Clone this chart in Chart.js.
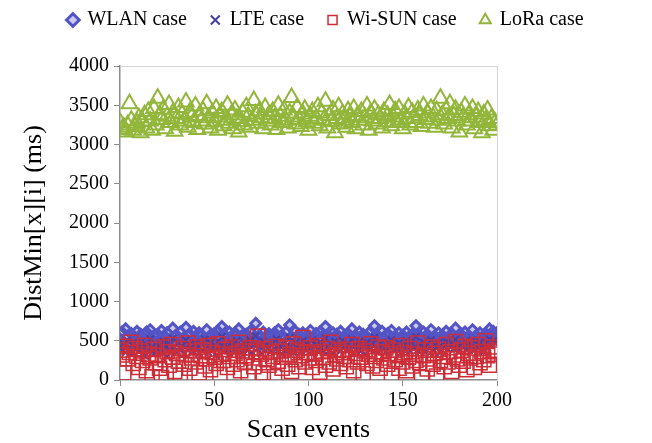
<!DOCTYPE html>
<html>
<head>
<meta charset="utf-8">
<script src="https://cdn.jsdelivr.net/npm/chart.js@4/dist/chart.umd.min.js"></script>
<style>
  html, body { margin: 0; padding: 0; background: #fff; }
  #wrap { width: 652px; height: 443px; }
</style>
</head>
<body>
<div id="wrap"><canvas id="chart"></canvas></div>
<script>
// values, one per scan event (index = scan event)
const wlan = [
  520, 610, 480, 650, 560, 430, 590, 520, 470, 620, 540, 580, 500, 450, 610, 530, 640, 490, 560, 420,
  580, 510, 630, 470, 550, 600, 440, 520, 660, 490, 570, 530, 610, 460, 540, 670, 500, 580, 450, 620,
  530, 490, 600, 560, 430, 520, 640, 480, 570, 510, 590, 460, 620, 540, 680, 500, 560, 440, 610, 530,
  470, 600, 520, 650, 490, 560, 430, 580, 510, 620, 480, 540, 720, 500, 570, 460, 610, 530, 490, 590,
  550, 420, 600, 510, 640, 470, 570, 530, 610, 490, 700, 550, 450, 620, 510, 580, 470, 600, 540, 500,
  560, 630, 480, 540, 590, 450, 610, 520, 570, 680, 500, 550, 460, 600, 530, 580, 490, 620, 510, 560,
  470, 590, 540, 650, 500, 570, 430, 610, 520, 580, 480, 550, 600, 460, 530, 690, 510, 560, 490, 620,
  540, 470, 590, 510, 630, 480, 560, 520, 600, 450, 570, 500, 610, 540, 470, 580, 520, 690, 490, 560,
  530, 610, 470, 580, 510, 640, 490, 560, 520, 600, 460, 570, 530, 620, 480, 550, 590, 500, 660, 540,
  470, 580, 520, 610, 490, 560, 530, 640, 480, 570, 510, 600, 540, 470, 590, 520, 650, 560, 620, 580,
  600
];
const lte = [
  420, 380, 460, 350, 500, 410, 330, 470, 390, 440, 360, 480, 400, 310, 450, 380, 520, 420, 340, 460,
  390, 430, 350, 490, 410, 300, 460, 380, 530, 420, 350, 470, 400, 440, 330, 510, 380, 450, 410, 360,
  480, 400, 340, 460, 390, 520, 420, 350, 470, 380, 440, 310, 490, 410, 550, 370, 450, 400, 330, 480,
  420, 360, 500, 390, 440, 320, 470, 410, 380, 510, 350, 450, 560, 400, 430, 340, 490, 380, 450, 410,
  360, 470, 400, 520, 380, 440, 330, 490, 410, 370, 540, 430, 350, 480, 400, 450, 360, 500, 420, 380,
  470, 400, 510, 350, 440, 390, 480, 410, 360, 530, 420, 380, 460, 340, 490, 410, 450, 370, 500, 430,
  380, 460, 400, 520, 350, 440, 410, 490, 370, 450, 330, 480, 420, 390, 470, 540, 400, 360, 460, 430,
  410, 360, 480, 420, 510, 380, 450, 400, 470, 340, 440, 390, 500, 430, 370, 460, 410, 550, 380, 450,
  420, 480, 360, 450, 400, 510, 380, 440, 410, 470, 350, 460, 420, 490, 390, 440, 470, 400, 520, 430,
  370, 460, 410, 490, 390, 450, 420, 510, 380, 460, 400, 480, 430, 360, 470, 410, 520, 450, 490, 470,
  480
];
const wisun = [
  380, 320, 90, 430, 270, 350, 480, 210, 400, 300, 160, 370, 250, 440, 120, 330, 280, 40, 390, 220,
  310, 150, 30, 420, 260, 360, 190, 450, 290, 110, 340, 240, 60, 400, 200, 320, 470, 150, 280, 370,
  230, 420, 90, 310, 380, 180, 270, 440, 130, 350, 290, 210, 460, 70, 330, 250, 390, 160, 300, 420,
  200, 340, 260, 480, 120, 370, 230, 310, 40, 410, 280, 170, 360, 560, 220, 330, 90, 400, 260, 190,
  350, 300, 40, 430, 240, 370, 150, 290, 410, 200, 320, 110, 460, 260, 380, 170, 310, 540, 230, 350,
  280, 410, 160, 330, 250, 440, 100, 360, 290, 190, 400, 230, 480, 140, 320, 270, 380, 210, 350, 300,
  170, 390, 260, 450, 120, 340, 230, 400, 290, 80, 370, 210, 330, 460, 180, 300, 250, 420, 150, 360,
  280, 410, 200, 340, 60, 380, 260, 310, 150, 440, 230, 350, 120, 290, 400, 180, 330, 250, 470, 220,
  30, 310, 380, 140, 270, 420, 200, 340, 50, 390, 250, 300, 170, 450, 230, 360, 110, 320, 490, 270,
  190, 380, 240, 430, 130, 340, 280, 410, 160, 300, 450, 220, 360, 260, 500, 310, 190, 420, 330, 380,
  360
];
const lora = [
  3280, 3190, 3220, 3160, 3250, 3520, 3310, 3180, 3230, 3270, 3340, 3150, 3290, 3380, 3210, 3420, 3300, 3180, 3460, 3250,
  3590, 3380, 3320, 3450, 3200, 3360, 3510, 3280, 3400, 3170, 3330, 3470, 3250, 3390, 3300, 3540, 3220, 3410, 3350, 3280,
  3490, 3190, 3370, 3300, 3430, 3260, 3520, 3340, 3210, 3400, 3290, 3460, 3180, 3350, 3420, 3240, 3310, 3500, 3270, 3380,
  3200, 3440, 3330, 3160, 3290, 3410, 3250, 3480, 3360, 3220, 3310, 3560, 3390, 3270, 3430, 3340, 3200, 3470, 3300, 3380,
  3250, 3420, 3330, 3190, 3500, 3360, 3280, 3440, 3310, 3210, 3400, 3600, 3350, 3260, 3470, 3320, 3230, 3390, 3450, 3290,
  3180, 3360, 3420, 3270, 3330, 3480, 3240, 3400, 3310, 3550, 3210, 3370, 3290, 3440, 3150, 3330, 3480, 3260, 3390, 3310,
  3220, 3430, 3350, 3280, 3460, 3200, 3370, 3310, 3420, 3250, 3340, 3490, 3180, 3400, 3300, 3450, 3260, 3380, 3330, 3210,
  3420, 3290, 3370, 3510, 3240, 3350, 3430, 3280, 3460, 3310, 3200, 3390, 3330, 3470, 3250, 3410, 3340, 3280, 3440, 3370,
  3230, 3490, 3320, 3400, 3270, 3460, 3350, 3220, 3430, 3310, 3590, 3380, 3260, 3440, 3330, 3520, 3210, 3370, 3450, 3300,
  3160, 3410, 3340, 3490, 3250, 3380, 3300, 3460, 3200, 3350, 3420, 3280, 3150, 3390, 3310, 3440, 3240, 3330, 3180, 3280,
  3250
];
const seriesNames = ["WLAN case", "LTE case", "Wi-SUN case", "LoRa case"];
const xTicks = [0, 50, 100, 150, 200];
const yTicks = [0, 500, 1000, 1500, 2000, 2500, 3000, 3500, 4000];

const toPoints = (arr) => arr.map((v, i) => ({x: i, y: v}));
const serif = "'Liberation Serif', 'DejaVu Serif', serif";

const data = {
  datasets: [
    {
      label: seriesNames[0],
      data: toPoints(wlan),
      pointStyle: "rectRot",
      pointRadius: 5,
      borderWidth: 3,
      borderColor: "rgb(84, 84, 198)",
      backgroundColor: "rgba(84, 84, 198, 0.3)",
      order: 3,
    },
    {
      label: seriesNames[1],
      data: toPoints(lte),
      pointStyle: "crossRot",
      pointRadius: 5,
      borderWidth: 2,
      borderColor: "rgb(72, 62, 160)",
      backgroundColor: "rgb(72, 62, 160)",
      order: 2,
    },
    {
      label: seriesNames[2],
      data: toPoints(wisun),
      pointStyle: "rect",
      pointRadius: 10,
      borderWidth: 1.5,
      borderColor: "rgb(205, 45, 55)",
      backgroundColor: "rgba(0, 0, 0, 0)",
      order: 1,
    },
    {
      label: seriesNames[3],
      data: toPoints(lora),
      pointStyle: "triangle",
      pointRadius: 9,
      borderWidth: 2,
      borderColor: "rgb(146, 182, 58)",
      backgroundColor: "rgba(0, 0, 0, 0)",
      order: 0,
    },
  ],
};

const axisGray = "#8c8c8c";
const boxGray = "#d6d6d6";

new Chart(document.getElementById("chart"), {
  type: "scatter",
  data: data,
  options: {
    responsive: true,
    maintainAspectRatio: false,
    animation: false,
    layout: {padding: {top: -14, left: 0, right: 0, bottom: 0}},
    plugins: {
      tooltip: {enabled: false},
      legend: {
        display: true,
        position: "top",
        labels: {
          usePointStyle: true,
          boxWidth: 9,
          boxHeight: 9,
          padding: 24,
          color: "#000",
          font: {family: serif, size: 20},
          sort: (a, b) => a.datasetIndex - b.datasetIndex,
        },
      },
    },
    scales: {
      x: {
        type: "linear",
        position: "bottom",
        min: 0,
        max: 200,
        afterBuildTicks: (scale) => {
          scale.ticks = xTicks.map((v) => ({value: v}));
        },
        afterFit: (scale) => {
          scale.height = 63;
        },
        grid: {display: true, drawOnChartArea: false, drawTicks: true, tickLength: 6, color: axisGray},
        border: {display: true, color: axisGray, width: 1.5},
        ticks: {
          color: "#000",
          padding: 3,
          maxRotation: 0,
          font: {family: serif, size: 20},
          callback: (v) => String(v),
        },
        title: {
          display: true,
          text: "Scan events",
          color: "#000",
          padding: {top: 0, bottom: 0},
          font: {family: serif, size: 26, lineHeight: 1.0},
        },
      },
      y: {
        type: "linear",
        position: "left",
        min: 0,
        max: 4000,
        afterBuildTicks: (scale) => {
          scale.ticks = yTicks.map((v) => ({value: v}));
        },
        afterFit: (scale) => {
          scale.width = 120;
        },
        grid: {display: true, drawOnChartArea: false, drawTicks: true, tickLength: 6, color: axisGray},
        border: {display: true, color: axisGray, width: 1.5},
        ticks: {
          color: "#000",
          padding: 5,
          font: {family: serif, size: 20},
          callback: (v) => String(v),
        },
        title: {
          display: true,
          text: "DistMin[x][i] (ms)",
          color: "#000",
          padding: {top: 19, bottom: 0},
          font: {family: serif, size: 26},
        },
      },
      // empty axes used as the light frame on the top and right of the plot
      xTop: {
        type: "linear",
        position: "top",
        min: 0,
        max: 1,
        afterFit: (scale) => {
          scale.height = 26;
        },
        grid: {display: false},
        border: {display: true, color: boxGray, width: 1},
        ticks: {display: false},
      },
      yRight: {
        type: "linear",
        position: "right",
        min: 0,
        max: 1,
        afterFit: (scale) => {
          scale.width = 155;
        },
        grid: {display: false},
        border: {display: true, color: boxGray, width: 1},
        ticks: {display: false},
      },
    },
  },
});
</script>
</body>
</html>
